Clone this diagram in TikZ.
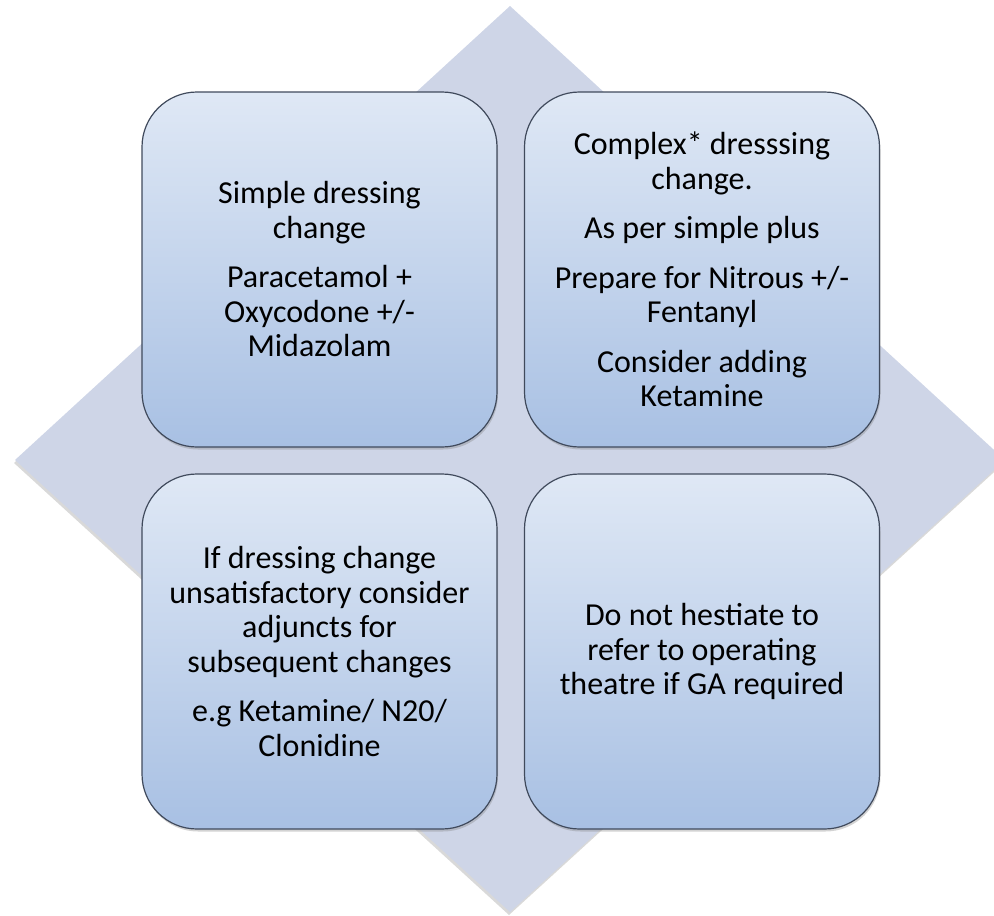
\documentclass[tikz,border=0pt]{standalone}
\usepackage{fontspec}
\setmainfont{Carlito}
\usetikzlibrary{shadows}
\definecolor{diam}{HTML}{CED5E7}
\definecolor{boxtop}{HTML}{DFE8F5}
\definecolor{boxbot}{HTML}{A8C0E3}
\definecolor{bordc}{HTML}{404A5C}
\tikzset{
  box/.style={draw=bordc, line width=1.2pt, rounded corners=55pt,
    minimum width=355pt, minimum height=355pt, inner sep=0pt,
    top color=boxtop, bottom color=boxbot, align=center,
    font=\fontsize{32}{34.5}\selectfont,
    drop shadow={opacity=0.35, shadow xshift=1pt, shadow yshift=-2.5pt}},
  diamondbg/.style={fill=diam,
    drop shadow={opacity=0.3, shadow xshift=-1pt, shadow yshift=-3pt}}
}
\begin{document}
\begin{tikzpicture}[x=1pt,y=-1pt]
\useasboundingbox (0,0) rectangle (994,916);
\clip (0,0) rectangle (994,916);
\path[diamondbg] (510,6) -- (1005,460) -- (510,912) -- (15,460) -- cycle;
\node[box] (tl) at (319.5,269.5) {Simple dressing\\change\\[15pt]Paracetamol +\\Oxycodone +/-\\Midazolam};
\node[box] (tr) at (702,269.5) {Complex* dresssing\\change.\\[15pt]As per simple plus\\[15pt]Prepare for Nitrous +/-\\Fentanyl\\[15pt]Consider adding\\Ketamine};
\node[box] (bl) at (319.5,651.5) {If dressing change\\unsatisfactory consider\\adjuncts for\\subsequent changes\\[15pt]e.g Ketamine/ N20/\\Clonidine};
\node[box] (br) at (702,651.5) {Do not hestiate to\\refer to operating\\theatre if GA required};
\end{tikzpicture}
\end{document}
